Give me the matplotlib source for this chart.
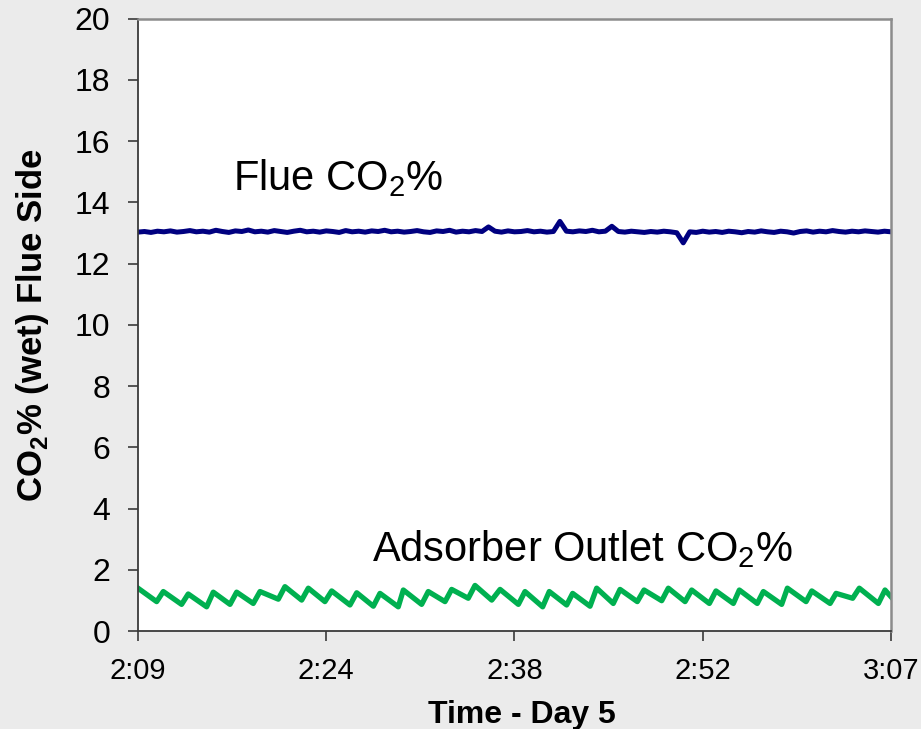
import numpy as np
import matplotlib
matplotlib.use("Agg")
from matplotlib import pyplot as plt

plt.rcParams['font.family'] = ['Liberation Sans', 'DejaVu Sans']
plt.rcParams['mathtext.fontset'] = 'custom'
plt.rcParams['mathtext.rm'] = 'Liberation Sans'
plt.rcParams['mathtext.bf'] = 'Liberation Sans:bold'

# minutes after 2:09
tick_pos = [0, 14.5, 29, 43.5, 58]
tick_labels = ['2:09', '2:24', '2:38', '2:52', '3:07']

# flue gas CO2 sampled every 30 s
flue_t = np.arange(0, 58.01, 0.5)
flue_co2 = [
    13.03, 13.05, 13.02, 13.06, 13.04, 13.07, 13.03, 13.05, 13.08, 13.04,
    13.06, 13.03, 13.09, 13.05, 13.02, 13.07, 13.05, 13.10, 13.04, 13.06,
    13.03, 13.08, 13.05, 13.02, 13.06, 13.09, 13.04, 13.06, 13.03, 13.07,
    13.05, 13.02, 13.08, 13.04, 13.06, 13.03, 13.07, 13.05, 13.09, 13.04,
    13.06, 13.03, 13.05, 13.08, 13.04, 13.02, 13.07, 13.05, 13.09, 13.03,
    13.06, 13.04, 13.08, 13.05, 13.20, 13.06, 13.03, 13.07, 13.04, 13.05,
    13.08, 13.04, 13.06, 13.03, 13.05, 13.38, 13.06, 13.04, 13.07, 13.05,
    13.09, 13.04, 13.06, 13.22, 13.05, 13.03, 13.06, 13.04, 13.02, 13.05,
    13.03, 13.06, 13.04, 13.01, 12.68, 13.04, 13.02, 13.06, 13.03, 13.05,
    13.02, 13.06, 13.04, 13.01, 13.05, 13.03, 13.07, 13.04, 13.02, 13.06,
    13.04, 13.00, 13.05, 13.07, 13.03, 13.06, 13.04, 13.08, 13.05, 13.03,
    13.06, 13.04, 13.07, 13.05, 13.03, 13.06, 13.04,
]

# adsorber outlet CO2, peaks and troughs of each cycle
outlet_t = [
    0.0, 1.44, 1.95, 3.36, 3.87, 5.29, 5.80, 7.09, 7.60, 8.88, 9.40,
    10.81, 11.32, 12.61, 13.12, 14.40, 14.92, 16.33, 16.85, 18.13, 18.64,
    20.05, 20.44, 21.85, 22.36, 23.65, 24.16, 25.44, 25.96, 27.25, 27.89,
    29.30, 29.81, 31.17, 31.68, 33.02, 33.48, 34.82, 35.33, 36.61, 37.13,
    38.46, 38.98, 40.34, 40.85, 42.14, 42.65, 44.01, 44.52, 45.86, 46.32,
    47.70, 48.17, 49.58, 50.02, 51.46, 51.90, 53.31, 53.77, 55.05, 55.56,
    57.03, 57.54, 58.0,
]
outlet_co2 = [
    1.40, 0.96, 1.29, 0.87, 1.21, 0.79, 1.27, 0.87, 1.27, 0.90, 1.29,
    1.04, 1.45, 1.01, 1.40, 0.96, 1.31, 0.85, 1.25, 0.81, 1.23,
    0.79, 1.34, 0.87, 1.29, 0.96, 1.36, 1.07, 1.49, 1.01, 1.36,
    0.87, 1.29, 0.79, 1.29, 0.85, 1.23, 0.81, 1.40, 0.90, 1.36,
    0.96, 1.34, 0.99, 1.40, 0.96, 1.34, 0.90, 1.31, 0.90, 1.34,
    0.90, 1.29, 0.87, 1.40, 0.96, 1.31, 0.90, 1.23, 1.07, 1.40,
    0.90, 1.34, 1.12,
]

bg = '#ebebeb'
fig = plt.figure(figsize=(9.21, 7.29), dpi=100, facecolor=bg)
ax = fig.add_axes([0.1498, 0.1344, 0.8176, 0.8399])
ax.set_facecolor('white')

ax.plot(flue_t, flue_co2, color='#000080', lw=3.6, solid_joinstyle='round')
ax.plot(outlet_t, outlet_co2, color='#00b050', lw=3.8, solid_joinstyle='round')

ax.set_xlim(0, 58)
ax.set_ylim(0, 20)
ax.set_yticks(range(0, 21, 2))
ax.set_xticks(tick_pos)
ax.set_xticklabels(tick_labels)

for s in ['top', 'right']:
    ax.spines[s].set_color('#8c8c8c')
    ax.spines[s].set_linewidth(1.8)
for s in ['left', 'bottom']:
    ax.spines[s].set_color('#3a3a3a')
    ax.spines[s].set_linewidth(1.3)

ax.tick_params(axis='y', direction='out', length=7, width=1.2, color='#3a3a3a',
               labelsize=23, pad=13)
ax.tick_params(axis='x', direction='out', length=7, width=1.2, color='#3a3a3a',
               labelsize=21, pad=12)

ax.text(7.3, 14.4, r'Flue CO$_2$%', fontsize=30)
ax.text(18.0, 2.28, r'Adsorber Outlet CO$_2$%', fontsize=30)

ax.set_xlabel('Time - Day 5', fontsize=23, fontweight='bold')
ax.xaxis.set_label_coords(0.51, -0.112)
ax.set_ylabel(r'CO$_\mathbf{2}$% (wet) Flue Side', fontsize=25, fontweight='bold')
ax.yaxis.set_label_coords(-0.116, 0.5)

fig.savefig('out.png', dpi=100, facecolor=bg)
